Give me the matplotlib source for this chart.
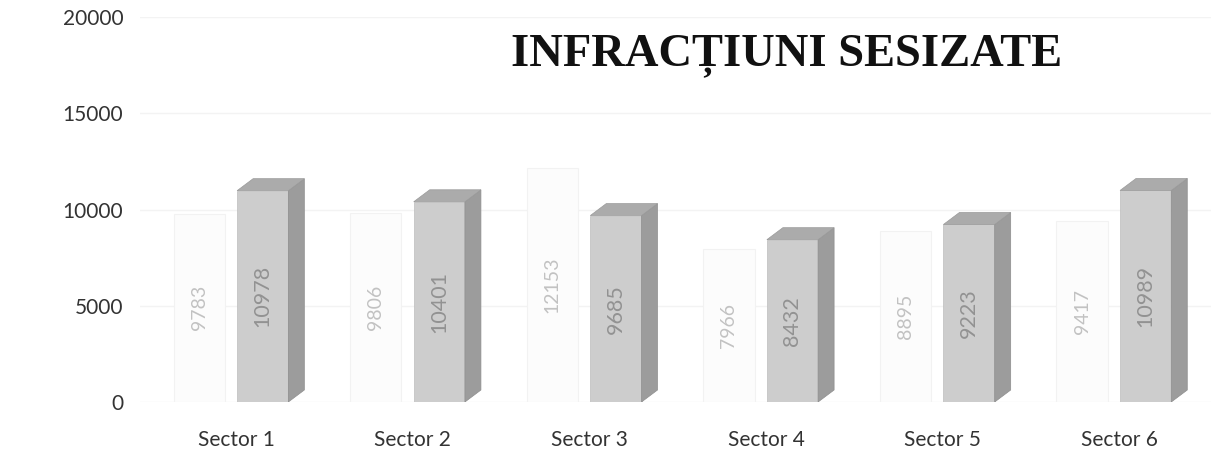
import matplotlib.pyplot as plt
from matplotlib.patches import Polygon
import numpy as np

sectors = ['Sector 1', 'Sector 2', 'Sector 3', 'Sector 4', 'Sector 5', 'Sector 6']
prev_year = [9783, 9806, 12153, 7966, 8895, 9417]
this_year = [10978, 10401, 9685, 8432, 9223, 10989]
yticks = [0, 5000, 10000, 15000, 20000]

fig = plt.figure(figsize=(12.11, 4.53), dpi=100)
ax = fig.add_axes([140 / 1211, 51 / 453, 1071 / 1211, 385 / 453])

x = np.arange(len(sectors))
w = 0.29
px = 1071 / 6.065  # px per category
# depth of the fake 3d faces, px -> data units
dx = 16 / px
dy = 12 / 385 * 20000

ax.set_xlim(-0.545, 5.52)
ax.set_ylim(0, 20000)
ax.set_yticks(yticks)
ax.set_yticklabels([str(t) for t in yticks])
ax.yaxis.grid(True, color='#f3f3f3', linewidth=1.0)
ax.set_axisbelow(True)

# faint (almost invisible) series
ax.bar(x - 0.21, prev_year, width=w, color='#fcfcfc', edgecolor='#f2f2f2',
       linewidth=0.8, zorder=1)
for xi, v in zip(x - 0.21, prev_year):
    ax.text(xi, v / 2, str(v), rotation=90, ha='center', va='center',
            fontsize=14, color='#c2c2c2', family='Lato', zorder=5)

# grey 3d-looking columns
xs = x + 0.15
ax.bar(xs, this_year, width=w, color='#cdcdcd', edgecolor='#bdbdbd',
       linewidth=0.5, zorder=3)
for xi, v in zip(xs, this_year):
    r = xi + w / 2
    l = xi - w / 2
    side = Polygon([(r, 0), (r + dx, dy), (r + dx, v + dy), (r, v)],
                   closed=True, facecolor='#9c9c9c', edgecolor='#8e8e8e',
                   linewidth=0.5, zorder=3)
    top = Polygon([(l, v), (r, v), (r + dx, v + dy), (l + dx, v + dy)],
                  closed=True, facecolor='#ababab', edgecolor='#9a9a9a',
                  linewidth=0.5, zorder=3)
    ax.add_patch(side)
    ax.add_patch(top)
    ax.text(xi, v / 2, str(v), rotation=90, ha='center', va='center',
            fontsize=15.5, color='#929292', family='Lato', zorder=5)

ax.set_xticks(x)
ax.set_xticklabels(sectors)
for lab in ax.get_xticklabels() + ax.get_yticklabels():
    lab.set_family('Lato')
    lab.set_fontsize(15)
    lab.set_color('#333333')
ax.tick_params(axis='both', length=0)
ax.tick_params(axis='x', pad=20)
ax.tick_params(axis='y', pad=12)
for s in ax.spines.values():
    s.set_visible(False)

fig.text(787 / 1211, 1 - 56 / 453, 'INFRACȚIUNI SESIZATE', ha='center',
         va='center', fontsize=33.5, fontweight='bold',
         family='Liberation Serif', color='#111111')

fig.savefig('out.png', dpi=100)
